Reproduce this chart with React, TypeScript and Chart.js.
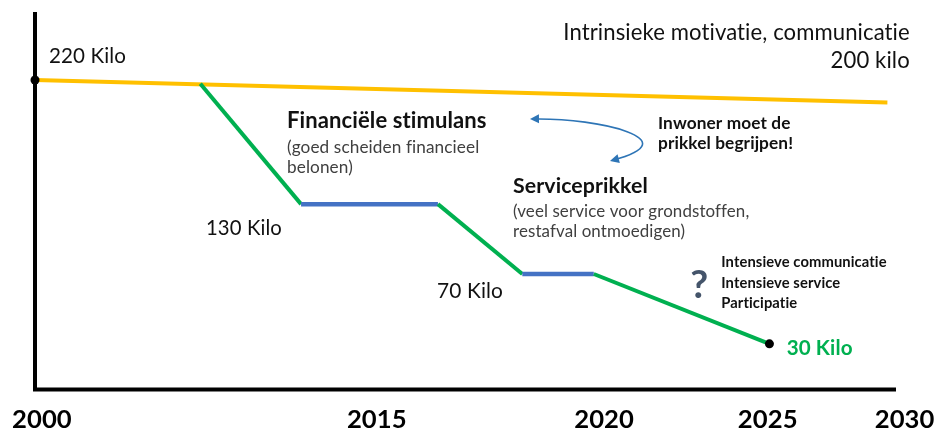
import { useEffect, useRef } from "react";
import { Chart, registerables } from "chart.js";

Chart.register(...registerables);

// ---- data (schematic positions: x = time position 0..100, y = level 0..100) ----
const yearLabels = ["2000", "2015", "2020", "2025", "2030"];
const yearPositions = [0.8, 39.7, 66.1, 85.1, 101];

// Intrinsic motivation baseline: 220 kilo -> 200 kilo
const baselineX = [0, 99];
const baselineY = [82, 76];

// Reduction path: 220 -> 130 -> (flat) -> 70 -> (flat) -> 30 kilo
const pathX = [19.2, 30.9, 46.8, 56.6, 64.9, 85.3];
const pathY = [81, 49.1, 49.1, 30.6, 30.6, 12.1];

// Start / end markers
const markerX = [0, 85.3];
const markerY = [82, 12.1];

const YELLOW = "#FFC000";
const GREEN = "#00B050";
const BLUE = "#4472C4";
const ARROW = "#2E75B6";
const TEXT = "#111111";
const GRAY = "#404040";
const FONT = "Lato, 'Open Sans', sans-serif";

type Group = {
  lines: string[];
  x: number;
  y: number;
  lh?: number;
  fitLine?: number;
  fitW?: number;
  size?: number;
  weight: string;
  color: string;
  align: CanvasTextAlign;
};

const groups: Group[] = [
  { lines: ["Intrinsieke motivatie, communicatie", "200 kilo"], x: 101.6, y: 92.6, lh: 28, fitLine: 0, fitW: 347, weight: "normal", color: TEXT, align: "right" },
  { lines: ["220 Kilo"], x: 1.63, y: 86.5, fitLine: 0, fitW: 77, weight: "normal", color: TEXT, align: "left" },
  { lines: ["Financiële stimulans"], x: 29.27, y: 69.3, fitLine: 0, fitW: 200, weight: "bold", color: TEXT, align: "left" },
  { lines: ["(goed scheiden financieel", "belonen)"], x: 29.27, y: 62.6, lh: 20, fitLine: 0, fitW: 192, weight: "normal", color: GRAY, align: "left" },
  { lines: ["130 Kilo"], x: 19.86, y: 40.9, fitLine: 0, fitW: 76, weight: "normal", color: TEXT, align: "left" },
  { lines: ["Inwoner moet de", "prikkel begrijpen!"], x: 72.36, y: 69.0, lh: 20, fitLine: 1, fitW: 135, weight: "bold", color: TEXT, align: "left" },
  { lines: ["Serviceprikkel"], x: 55.52, y: 52.05, fitLine: 0, fitW: 135, weight: "bold", color: TEXT, align: "left" },
  { lines: ["(veel service voor grondstoffen,", "restafval ontmoedigen)"], x: 55.52, y: 45.7, lh: 20, fitLine: 0, fitW: 236, weight: "normal", color: GRAY, align: "left" },
  { lines: ["70 Kilo"], x: 46.7, y: 24.24, fitLine: 0, fitW: 66, weight: "normal", color: TEXT, align: "left" },
  { lines: ["?"], x: 76.1, y: 24.24, size: 39, weight: "bold", color: "#44546A", align: "left" },
  { lines: ["Intensieve communicatie", "Intensieve service", "Participatie"], x: 79.7, y: 32.45, lh: 20.5, fitLine: 0, fitW: 165, weight: "bold", color: TEXT, align: "left" },
  { lines: ["30 Kilo"], x: 87.3, y: 9.1, fitLine: 0, fitW: 66, weight: "bold", color: GREEN, align: "left" },
];

function noLigatures(ctx: CanvasRenderingContext2D) {
  // a tiny non-zero letter spacing turns off optional ligatures (e.g. Lato's "ti")
  (ctx as any).letterSpacing = "0.1px";
}

function fitSize(ctx: CanvasRenderingContext2D, text: string, weight: string, w: number) {
  ctx.font = `${weight} 20px ${FONT}`;
  noLigatures(ctx);
  const m = ctx.measureText(text).width;
  return (20 * w) / m;
}

function arrowHead(ctx: CanvasRenderingContext2D, fx: number, fy: number, tx: number, ty: number) {
  const a = Math.atan2(ty - fy, tx - fx);
  const L = 9, H = 4.5;
  ctx.beginPath();
  ctx.moveTo(tx, ty);
  ctx.lineTo(tx - L * Math.cos(a) + H * Math.sin(a), ty - L * Math.sin(a) - H * Math.cos(a));
  ctx.lineTo(tx - L * Math.cos(a) - H * Math.sin(a), ty - L * Math.sin(a) + H * Math.cos(a));
  ctx.closePath();
  ctx.fill();
}

const overlay = {
  id: "overlay",
  beforeDatasetsDraw(chart: any) {
    const { ctx, scales } = chart;
    const x = scales.x, y = scales.y;
    ctx.save();
    ctx.strokeStyle = "#000";
    ctx.lineWidth = 4;
    ctx.lineJoin = "miter";
    ctx.beginPath();
    ctx.moveTo(x.getPixelForValue(0), y.getPixelForValue(100));
    ctx.lineTo(x.getPixelForValue(0), y.getPixelForValue(0));
    ctx.lineTo(x.getPixelForValue(100), y.getPixelForValue(0));
    ctx.stroke();
    ctx.restore();
  },
  afterDatasetsDraw(chart: any) {
    const { ctx, scales } = chart;
    const x = scales.x, y = scales.y;
    ctx.save();
    noLigatures(ctx);
    // year labels
    const ySize = fitSize(ctx, "2000", "bold", 60);
    ctx.font = `bold ${ySize}px ${FONT}`;
    noLigatures(ctx);
    ctx.fillStyle = "#000";
    ctx.textAlign = "center";
    ctx.textBaseline = "alphabetic";
    yearLabels.forEach((lab, i) => {
      ctx.fillText(lab, x.getPixelForValue(yearPositions[i]), y.getPixelForValue(0) + 38.5);
    });
    // annotations
    for (const g of groups) {
      const size = g.size ?? fitSize(ctx, g.lines[g.fitLine ?? 0], g.weight, g.fitW ?? 100);
      ctx.font = `${g.weight} ${size}px ${FONT}`;
      noLigatures(ctx);
      ctx.fillStyle = g.color;
      ctx.textAlign = g.align;
      ctx.textBaseline = "alphabetic";
      const px = x.getPixelForValue(g.x);
      const py = y.getPixelForValue(g.y);
      g.lines.forEach((ln, i) => ctx.fillText(ln, px, py + i * (g.lh ?? 20)));
    }
    // curved double arrow
    const P0 = [x.getPixelForValue(57.49), y.getPixelForValue(71.66)];
    const C1 = [x.getPixelForValue(65.62), y.getPixelForValue(71.92)];
    const C2 = [x.getPixelForValue(76.07), y.getPixelForValue(66.09)];
    const P3 = [x.getPixelForValue(66.78), y.getPixelForValue(60.53)];
    ctx.strokeStyle = ARROW;
    ctx.fillStyle = ARROW;
    ctx.lineWidth = 1.6;
    ctx.beginPath();
    ctx.moveTo(P0[0] + 4, P0[1]);
    ctx.bezierCurveTo(C1[0], C1[1], C2[0], C2[1], P3[0] + 3, P3[1] - 1);
    ctx.stroke();
    arrowHead(ctx, C1[0], C1[1], P0[0], P0[1]);
    arrowHead(ctx, C2[0], C2[1], P3[0], P3[1]);
    ctx.restore();
  },
};

export default function App() {
  const ref = useRef<HTMLCanvasElement>(null);
  useEffect(() => {
    if (!ref.current) return;
    const chart = new Chart(ref.current, {
      type: "line",
      data: {
        datasets: [
          {
            label: "markers",
            data: markerX.map((v, i) => ({ x: v, y: markerY[i] })),
            showLine: false,
            pointRadius: 4.5,
            pointBackgroundColor: "#000",
            pointBorderWidth: 0,
            clip: false as any,
          },
          {
            label: "path",
            data: pathX.map((v, i) => ({ x: v, y: pathY[i] })),
            borderColor: GREEN,
            borderWidth: 4,
            pointRadius: 0,
            tension: 0,
            clip: false as any,
            segment: {
              borderColor: (c: any) => (c.p0.parsed.y === c.p1.parsed.y ? BLUE : GREEN),
              borderWidth: (c: any) => (c.p0.parsed.y === c.p1.parsed.y ? 4.5 : 4),
            },
          } as any,
          {
            label: "baseline",
            data: baselineX.map((v, i) => ({ x: v, y: baselineY[i] })),
            borderColor: YELLOW,
            borderWidth: 4,
            pointRadius: 0,
            tension: 0,
            clip: false as any,
          },
        ],
      },
      options: {
        animation: false,
        responsive: true,
        maintainAspectRatio: false,
        events: [],
        layout: { padding: { left: 35, right: 42, top: 12, bottom: 44.5 } },
        scales: {
          x: { type: "linear", min: 0, max: 100, display: false },
          y: { type: "linear", min: 0, max: 100, display: false },
        },
        plugins: { legend: { display: false }, tooltip: { enabled: false } },
      },
      plugins: [overlay],
    });
    return () => chart.destroy();
  }, []);
  return (
    <div style={{ position: "fixed", left: 0, top: 0, width: 938, height: 434, background: "#fff" }}>
      <canvas ref={ref} />
    </div>
  );
}
